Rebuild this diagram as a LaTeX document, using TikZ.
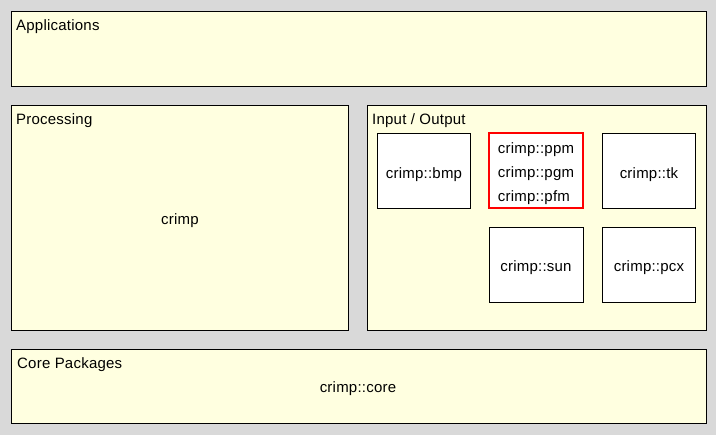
\documentclass[tikz,border=0pt]{standalone}
\usepackage{fontspec}
\setmainfont{Liberation Sans}[LetterSpace=1.5]
\definecolor{bg}{HTML}{D9D9D9}
\definecolor{pane}{HTML}{FFFFE0}
\begin{document}
\begin{tikzpicture}[x=1pt,y=-1pt,
  panel/.style={draw=black,line width=1pt,fill=pane},
  modbox/.style={draw=black,line width=1pt,fill=white},
  redbox/.style={draw=red,line width=2pt,fill=white},
  title/.style={anchor=base west,inner sep=0pt,font=\fontsize{15}{18}\selectfont},
  lbl/.style={anchor=base,inner sep=0pt,font=\fontsize{15}{18}\selectfont}]
\fill[bg] (0,0) rectangle (716,435);
\useasboundingbox (0,0) rectangle (716,435);
% panels
\draw[panel] (11.5,11.5) rectangle (706.5,86.5);
\draw[panel] (11.5,105.5) rectangle (348.5,330.5);
\draw[panel] (367.5,105.5) rectangle (706.5,330.5);
\draw[panel] (11.5,349.5) rectangle (706.5,423.5);
\node[title] (tapp) at (16,31) {Applications};
\node[title] (tproc) at (16,125) {Processing};
\node[title] (tio) at (372,125) {Input / Output};
\node[title] (tcore) at (17,369) {Core Packages};
\node[lbl] (crimp) at (180,225) {crimp};
\node[lbl] (core) at (358,393) {crimp::core};
% io modules
\draw[modbox] (377.5,133.5) rectangle (470.5,208.5);
\draw[redbox] (489,133) rectangle (583,208);
\draw[modbox] (602.5,133.5) rectangle (695.5,208.5);
\draw[modbox] (489.5,227.5) rectangle (583.5,302.5);
\draw[modbox] (602.5,227.5) rectangle (695.5,302.5);
\node[lbl] (bmp) at (424,179) {crimp::bmp};
\node[lbl] (ppm) at (536,154) {crimp::ppm};
\node[lbl] (pgm) at (536,178) {crimp::pgm};
\node[lbl,anchor=base west] (pfm) at (ppm.base west |- 0,202) {crimp::pfm};
\node[lbl] (tk) at (649,179) {crimp::tk};
\node[lbl] (sun) at (536,272) {crimp::sun};
\node[lbl] (pcx) at (649,272) {crimp::pcx};
\end{tikzpicture}
\end{document}
